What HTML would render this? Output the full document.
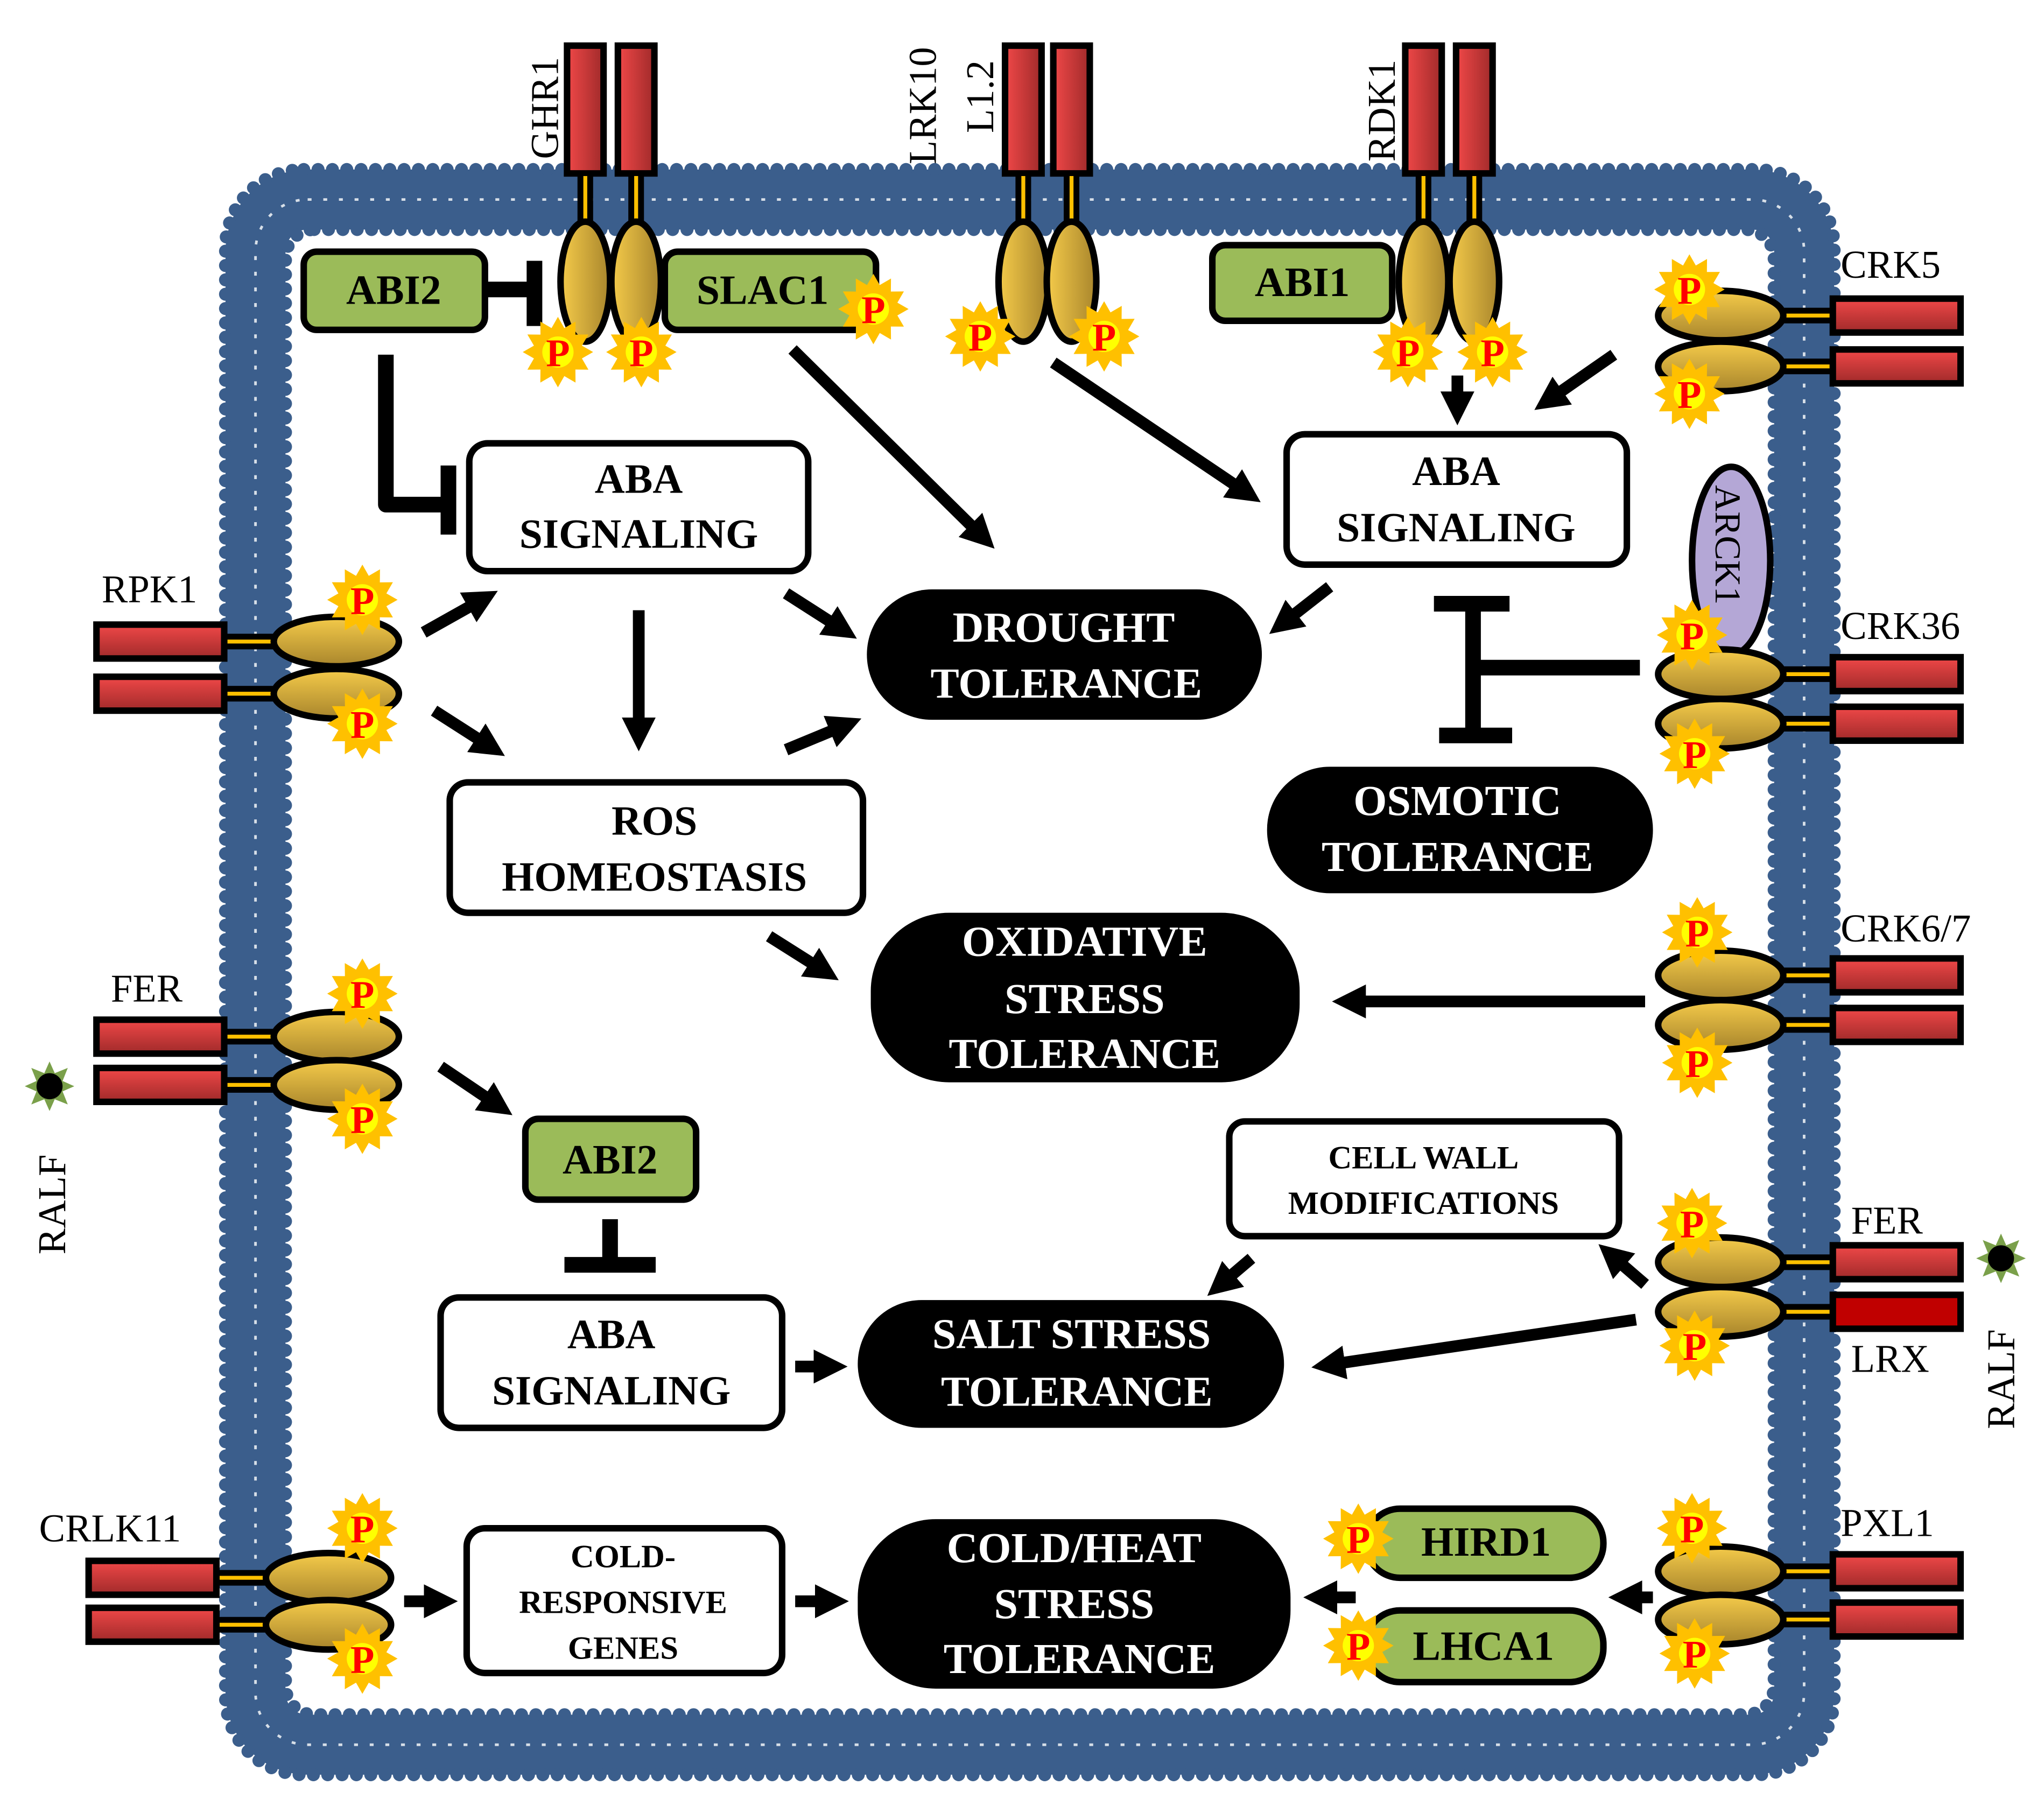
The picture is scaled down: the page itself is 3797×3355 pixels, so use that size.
<!DOCTYPE html>
<html><head><meta charset="utf-8">
<style>
html,body{margin:0;padding:0;background:#fff;}
svg{display:block;font-family:"Liberation Serif",serif;}
svg text{font-family:"Liberation Serif",serif;}
</style></head>
<body>
<svg width="3797" height="3355" viewBox="0 0 1568 1385" preserveAspectRatio="none" xmlns="http://www.w3.org/2000/svg" font-family="Liberation Serif, serif">
<defs>
<linearGradient id="gold" x1="0" x2="1" y1="0" y2="0"><stop offset="0" stop-color="#f5cb4a"/><stop offset="1" stop-color="#a8852c"/></linearGradient>
<linearGradient id="goldh" x1="0" x2="0" y1="0" y2="1"><stop offset="0" stop-color="#f5cb4a"/><stop offset="1" stop-color="#a8852c"/></linearGradient>
<linearGradient id="red" x1="0" x2="1" y1="0" y2="0"><stop offset="0" stop-color="#f04848"/><stop offset="1" stop-color="#a02a2a"/></linearGradient>
<linearGradient id="redh" x1="0" x2="0" y1="0" y2="1"><stop offset="0" stop-color="#f04848"/><stop offset="1" stop-color="#a02a2a"/></linearGradient>
<marker id="ah" markerUnits="userSpaceOnUse" markerWidth="26" markerHeight="26" viewBox="0 0 10 10" refX="3" refY="5" orient="auto"><path d="M0,0 L10,5 L0,10 z" fill="#000"/></marker>
<g id="star"><polygon fill="#ffc000" points="27,0 18.4,4.9 23.4,13.5 13.4,13.4 13.5,23.4 4.9,18.4 0,27 -4.9,18.4 -13.5,23.4 -13.4,13.4 -23.4,13.5 -18.4,4.9 -27,0 -18.4,-4.9 -23.4,-13.5 -13.4,-13.4 -13.5,-23.4 -4.9,-18.4 0,-27 4.9,-18.4 13.5,-23.4 13.4,-13.4 23.4,-13.5 18.4,-4.9"/><circle r="12" fill="#ffff00"/></g>
<g id="vr">
<rect x="-14" y="0" width="28" height="98" fill="url(#red)" stroke="#000" stroke-width="5"/>
<rect x="-6" y="98" width="12" height="45" fill="#000"/><rect x="-1.5" y="100" width="3" height="40" fill="#ffc000"/>
<ellipse cx="0" cy="181" rx="19" ry="46" fill="url(#gold)" stroke="#000" stroke-width="5"/>
</g>
<g id="hr">
<rect x="46" y="-6" width="40" height="12" fill="#000"/><rect x="48" y="-1.5" width="36" height="3" fill="#ffc000"/>
<rect x="86" y="-13" width="98" height="26" fill="url(#redh)" stroke="#000" stroke-width="5"/>
<ellipse cx="0" cy="0" rx="48" ry="19" fill="url(#goldh)" stroke="#000" stroke-width="5"/>
</g>
<g id="rals"><polygon fill="#7aa04a" points="19,0 10,4 14,14 4,10 0,19 -4,10 -14,14 -10,4 -19,0 -10,-4 -14,-14 -4,-10 0,-19 4,-10 14,-14 10,-4"/><circle r="10" fill="#000"/></g>
</defs>

<!-- membrane -->
<rect x="196" y="153" width="1188" height="1185" rx="40" fill="none" stroke="#3b5e8c" stroke-width="46"/>
<rect x="173" y="130" width="1234" height="1231" rx="60" fill="none" stroke="#3b5e8c" stroke-width="10" stroke-dasharray="0 11" stroke-linecap="round"/>
<rect x="219" y="176" width="1142" height="1139" rx="22" fill="none" stroke="#3b5e8c" stroke-width="10" stroke-dasharray="0 11" stroke-linecap="round"/>
<rect x="196" y="153" width="1188" height="1185" rx="40" fill="none" stroke="#fff" stroke-width="2" stroke-dasharray="3 9" opacity="0.8"/>

<!-- vertical receptors -->
<use href="#vr" x="449" y="35"/><use href="#vr" x="488" y="35"/>
<use href="#vr" x="785" y="35"/><use href="#vr" x="822" y="35"/>
<use href="#vr" x="1092" y="35"/><use href="#vr" x="1131" y="35"/>
<g font-family="Liberation Serif, serif" font-size="30" font-weight="normal" fill="#000">
<text transform="translate(428,122) rotate(-90)">GHR1</text>
<text transform="translate(718,126) rotate(-90)">LRK10</text>
<text transform="translate(762,102) rotate(-90)">L1.2</text>
<text transform="translate(1070,124) rotate(-90)">RDK1</text>
</g>

<!-- right receptors -->
<use href="#hr" x="1320" y="242"/><use href="#hr" x="1320" y="281"/>
<ellipse cx="1328" cy="430" rx="30" ry="72" fill="#b4a7d6" stroke="#000" stroke-width="5"/>
<text transform="translate(1316,372) rotate(90)" font-family="Liberation Serif, serif" font-size="28">ARCK1</text>
<use href="#hr" x="1320" y="517"/><use href="#hr" x="1320" y="555"/>
<use href="#hr" x="1320" y="748"/><use href="#hr" x="1320" y="786"/>
<use href="#hr" x="1320" y="968"/>
<g transform="translate(1320,1006)">
<rect x="46" y="-6" width="40" height="12" fill="#000"/><rect x="48" y="-1.5" width="36" height="3" fill="#ffc000"/>
<rect x="86" y="-13" width="98" height="26" fill="#c00000" stroke="#000" stroke-width="5"/>
<ellipse cx="0" cy="0" rx="48" ry="19" fill="url(#goldh)" stroke="#000" stroke-width="5"/>
</g>
<use href="#hr" x="1320" y="1205"/><use href="#hr" x="1320" y="1242"/>
<g font-family="Liberation Serif, serif" font-size="30" fill="#000">
<text x="1412" y="213">CRK5</text>
<text x="1412" y="490">CRK36</text>
<text x="1412" y="722">CRK6/7</text>
<text x="1420" y="946">FER</text>
<text x="1420" y="1052">LRX</text>
<text x="1412" y="1178">PXL1</text>
<text transform="translate(1545,1096) rotate(-90)">RALF</text>
<text x="78" y="462">RPK1</text>
<text x="85" y="768">FER</text>
<text x="30" y="1182">CRLK11</text>
<text transform="translate(50,962) rotate(-90)">RALF</text>
</g>
<use href="#rals" x="1535" y="965"/>

<!-- left receptors -->
<g transform="translate(258,492) scale(-1,1)"><use href="#hr"/></g>
<g transform="translate(258,532) scale(-1,1)"><use href="#hr"/></g>
<g transform="translate(258,795) scale(-1,1)"><use href="#hr"/></g>
<g transform="translate(258,832) scale(-1,1)"><use href="#hr"/></g>
<g transform="translate(252,1210) scale(-1,1)"><use href="#hr"/></g>
<g transform="translate(252,1246) scale(-1,1)"><use href="#hr"/></g>
<use href="#rals" x="38" y="833"/>

<!-- boxes -->
<g stroke="#000" stroke-width="5">
<rect x="233" y="193" width="139" height="60" rx="10" fill="#9bbb59"/>
<rect x="510" y="193" width="162" height="60" rx="10" fill="#9bbb59"/>
<rect x="930" y="188" width="138" height="58" rx="10" fill="#9bbb59"/>
<rect x="360" y="340" width="260" height="98" rx="14" fill="#fff"/>
<rect x="987" y="333" width="261" height="100" rx="14" fill="#fff"/>
<rect x="345" y="600" width="317" height="100" rx="14" fill="#fff"/>
<rect x="403" y="858" width="131" height="62" rx="10" fill="#9bbb59"/>
<rect x="943" y="860" width="299" height="88" rx="12" fill="#fff"/>
<rect x="338" y="995" width="262" height="100" rx="14" fill="#fff"/>
<rect x="358" y="1172" width="242" height="111" rx="14" fill="#fff"/>
<rect x="1048" y="1157" width="182" height="53" rx="26" fill="#9bbb59"/>
<rect x="1048" y="1235" width="182" height="55" rx="26" fill="#9bbb59"/>
</g>
<g fill="#000">
<rect x="665" y="452" width="303" height="100" rx="50"/>
<rect x="972" y="588" width="296" height="97" rx="48"/>
<rect x="668" y="700" width="329" height="130" rx="60"/>
<rect x="658" y="997" width="327" height="98" rx="49"/>
<rect x="658" y="1165" width="332" height="130" rx="60"/>
</g>

<g font-family="Liberation Serif, serif" font-weight="bold" font-size="32" text-anchor="middle" fill="#000">
<text x="302" y="233">ABI2</text>
<text x="585" y="233">SLAC1</text>
<text x="999" y="227">ABI1</text>
<text x="490" y="378">ABA</text><text x="490" y="420">SIGNALING</text>
<text x="1117" y="372">ABA</text><text x="1117" y="415">SIGNALING</text>
<text x="502" y="640">ROS</text><text x="502" y="683">HOMEOSTASIS</text>
<text x="468" y="900">ABI2</text>
<text x="469" y="1034">ABA</text><text x="469" y="1077">SIGNALING</text>
<text x="1140" y="1193">HIRD1</text>
<text x="1138" y="1273">LHCA1</text>
</g>
<g font-family="Liberation Serif, serif" font-weight="bold" font-size="25" text-anchor="middle" fill="#000">
<text x="1092" y="896">CELL  WALL</text><text x="1092" y="931">MODIFICATIONS</text>
<text x="478" y="1202">COLD-</text><text x="478" y="1237">RESPONSIVE</text><text x="478" y="1272">GENES</text>
</g>
<g font-family="Liberation Serif, serif" font-weight="bold" font-size="33" text-anchor="middle" fill="#fff">
<text x="816" y="492">DROUGHT</text><text x="818" y="535">TOLERANCE</text>
<text x="1118" y="625">OSMOTIC</text><text x="1118" y="668">TOLERANCE</text>
<text x="832" y="733">OXIDATIVE</text><text x="832" y="777">STRESS</text><text x="832" y="819">TOLERANCE</text>
<text x="822" y="1034">SALT STRESS</text><text x="826" y="1078">TOLERANCE</text>
<text x="824" y="1198">COLD/HEAT</text><text x="824" y="1241">STRESS</text><text x="828" y="1283">TOLERANCE</text>
</g>

<!-- arrows -->
<g stroke="#000" stroke-width="9" fill="none" marker-end="url(#ah)">
<line x1="608" y1="268" x2="750" y2="408"/>
<line x1="808" y1="278" x2="952" y2="375"/>
<line x1="1118" y1="288" x2="1118" y2="308"/>
<line x1="1238" y1="272" x2="1192" y2="304"/>
<line x1="1020" y1="450" x2="988" y2="475"/>
<line x1="603" y1="455" x2="642" y2="480"/>
<line x1="490" y1="468" x2="490" y2="558"/>
<line x1="603" y1="575" x2="644" y2="558"/>
<line x1="325" y1="485" x2="366" y2="462"/>
<line x1="333" y1="545" x2="372" y2="570"/>
<line x1="590" y1="718" x2="628" y2="742"/>
<line x1="1262" y1="768" x2="1040" y2="768"/>
<line x1="338" y1="818" x2="378" y2="845"/>
<line x1="610" y1="1048" x2="632" y2="1048"/>
<line x1="960" y1="965" x2="940" y2="982"/>
<line x1="1262" y1="985" x2="1240" y2="966"/>
<line x1="1255" y1="1012" x2="1024" y2="1046"/>
<line x1="310" y1="1228" x2="333" y2="1228"/>
<line x1="610" y1="1228" x2="633" y2="1228"/>
<line x1="1040" y1="1225" x2="1018" y2="1225"/>
<line x1="1268" y1="1225" x2="1252" y2="1225"/>
</g>
<!-- inhibitions -->
<g stroke="#000" stroke-width="12" fill="none" stroke-linejoin="round">
<line x1="372" y1="222" x2="410" y2="222"/>
<line x1="410" y1="200" x2="410" y2="250"/>
<polyline points="296,272 296,387 344,387"/>
<line x1="344" y1="357" x2="344" y2="410"/>
<line x1="1258" y1="512" x2="1130" y2="512"/>
<line x1="1130" y1="465" x2="1130" y2="560"/>
<line x1="1100" y1="463" x2="1158" y2="463"/>
<line x1="1104" y1="564" x2="1160" y2="564"/>
<line x1="468" y1="935" x2="468" y2="970"/>
<line x1="433" y1="970" x2="503" y2="970"/>
</g>

<!-- phosphorylation stars -->
<g>
<use href="#star" x="428" y="270"/><use href="#star" x="492" y="270"/><use href="#star" x="670" y="237"/>
<use href="#star" x="752" y="258"/><use href="#star" x="847" y="258"/>
<use href="#star" x="1080" y="270"/><use href="#star" x="1145" y="270"/>
<use href="#star" x="1296" y="222"/><use href="#star" x="1296" y="302"/>
<use href="#star" x="1298" y="487"/><use href="#star" x="1300" y="578"/>
<use href="#star" x="1302" y="715"/><use href="#star" x="1302" y="815"/>
<use href="#star" x="1298" y="938"/><use href="#star" x="1300" y="1032"/>
<use href="#star" x="1298" y="1172"/><use href="#star" x="1300" y="1268"/>
<use href="#star" x="1042" y="1180"/><use href="#star" x="1042" y="1262"/>
<use href="#star" x="278" y="460"/><use href="#star" x="278" y="555"/>
<use href="#star" x="278" y="762"/><use href="#star" x="278" y="858"/>
<use href="#star" x="278" y="1172"/><use href="#star" x="278" y="1272"/>
</g>
<g font-family="Liberation Serif, serif" font-weight="bold" font-size="30" fill="#ff0000" text-anchor="middle">
<text x="428" y="281">P</text><text x="492" y="281">P</text><text x="670" y="248">P</text>
<text x="752" y="269">P</text><text x="847" y="269">P</text>
<text x="1080" y="281">P</text><text x="1145" y="281">P</text>
<text x="1296" y="233">P</text><text x="1296" y="313">P</text>
<text x="1298" y="498">P</text><text x="1300" y="589">P</text>
<text x="1302" y="726">P</text><text x="1302" y="826">P</text>
<text x="1298" y="949">P</text><text x="1300" y="1043">P</text>
<text x="1298" y="1183">P</text><text x="1300" y="1279">P</text>
<text x="1042" y="1191">P</text><text x="1042" y="1273">P</text>
<text x="278" y="471">P</text><text x="278" y="566">P</text>
<text x="278" y="773">P</text><text x="278" y="869">P</text>
<text x="278" y="1183">P</text><text x="278" y="1283">P</text>
</g>
</svg>
</body></html>
